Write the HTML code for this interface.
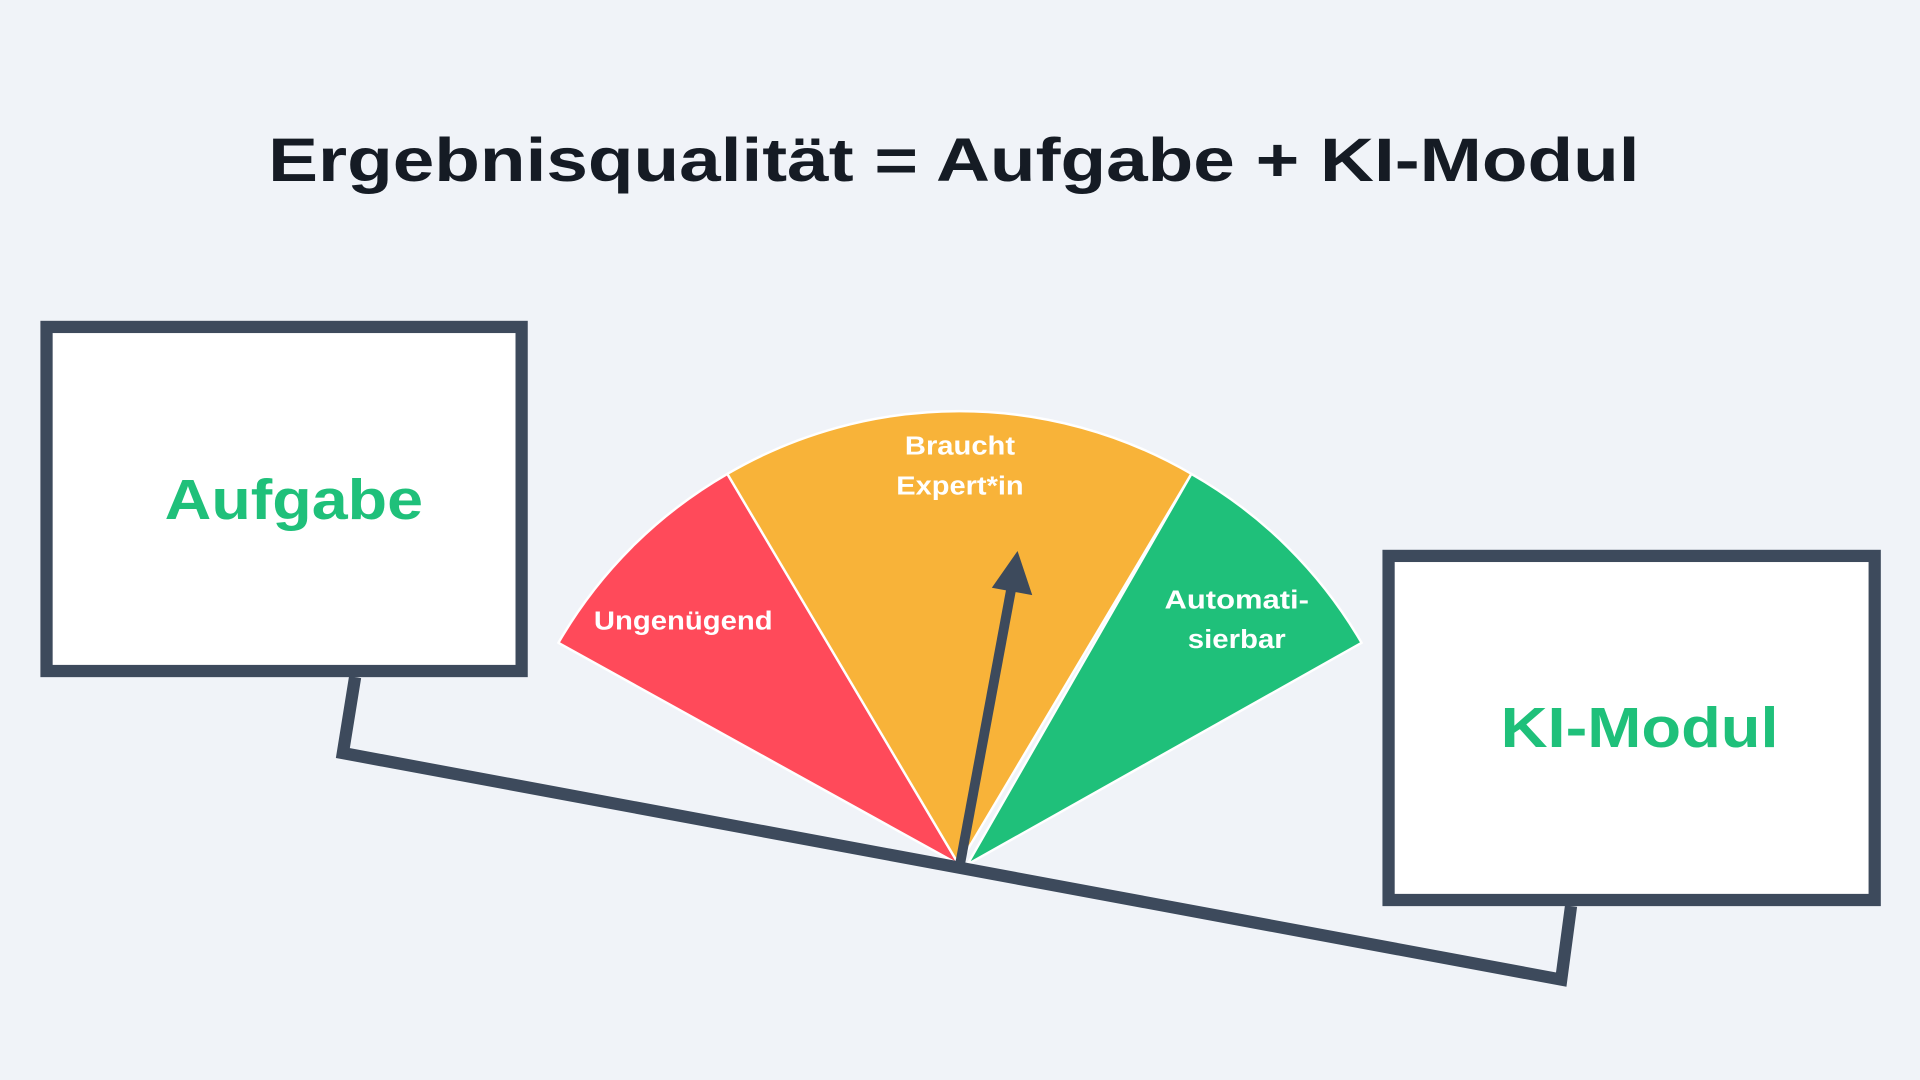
<!DOCTYPE html>
<html><head><meta charset="utf-8"><style>
html,body{margin:0;padding:0;background:#f0f3f8;}
svg{display:block;}
text{font-family:"Liberation Sans",sans-serif;font-weight:bold;}
</style></head><body>
<svg width="1920" height="1080" viewBox="0 0 1568 882" xmlns="http://www.w3.org/2000/svg">
<rect width="1568" height="882" fill="#f0f3f8"/>
<text x="779" y="148" font-size="50" fill="#151b24" text-anchor="middle" textLength="1120" lengthAdjust="spacingAndGlyphs">Ergebnisqualität = Aufgabe + KI-Modul</text>

<g stroke="#ffffff" stroke-width="2" stroke-linejoin="round">
<path d="M783,706 L456,525 A376,376 0 0 1 594,387 Z" fill="#ff4a5a"/>
<path d="M783,706 L594,387 A376,376 0 0 1 973,387 Z" fill="#f8b339"/>
<path d="M790,706 L973,387 A376,376 0 0 1 1112,525 Z" fill="#1fc07a"/>
</g>

<g fill="#ffffff" font-size="21" text-anchor="middle">
<text x="558" y="514" textLength="146" lengthAdjust="spacingAndGlyphs">Ungenügend</text>
<text x="784" y="371" textLength="90" lengthAdjust="spacingAndGlyphs">Braucht</text>
<text x="784" y="404" textLength="104" lengthAdjust="spacingAndGlyphs">Expert*in</text>
<text x="1010" y="497" textLength="118" lengthAdjust="spacingAndGlyphs">Automati-</text>
<text x="1010" y="529" textLength="80" lengthAdjust="spacingAndGlyphs">sierbar</text>
</g>

<polyline points="290,553 280,615 1275,800 1283,740" fill="none" stroke="#3d4a5c" stroke-width="10" stroke-linejoin="miter"/>

<line x1="784" y1="706" x2="826" y2="480" stroke="#3d4a5c" stroke-width="8"/>
<polygon points="831,450 843,486 810,480" fill="#3d4a5c"/>

<rect x="38" y="267" width="388" height="281" fill="#ffffff" stroke="#3d4a5c" stroke-width="10"/>
<text x="240" y="424" font-size="46" fill="#1fc07a" text-anchor="middle" textLength="211" lengthAdjust="spacingAndGlyphs">Aufgabe</text>
<rect x="1134" y="454" width="397" height="281" fill="#ffffff" stroke="#3d4a5c" stroke-width="10"/>
<text x="1339" y="610" font-size="46" fill="#1fc07a" text-anchor="middle" textLength="227" lengthAdjust="spacingAndGlyphs">KI-Modul</text>
</svg>
</body></html>
